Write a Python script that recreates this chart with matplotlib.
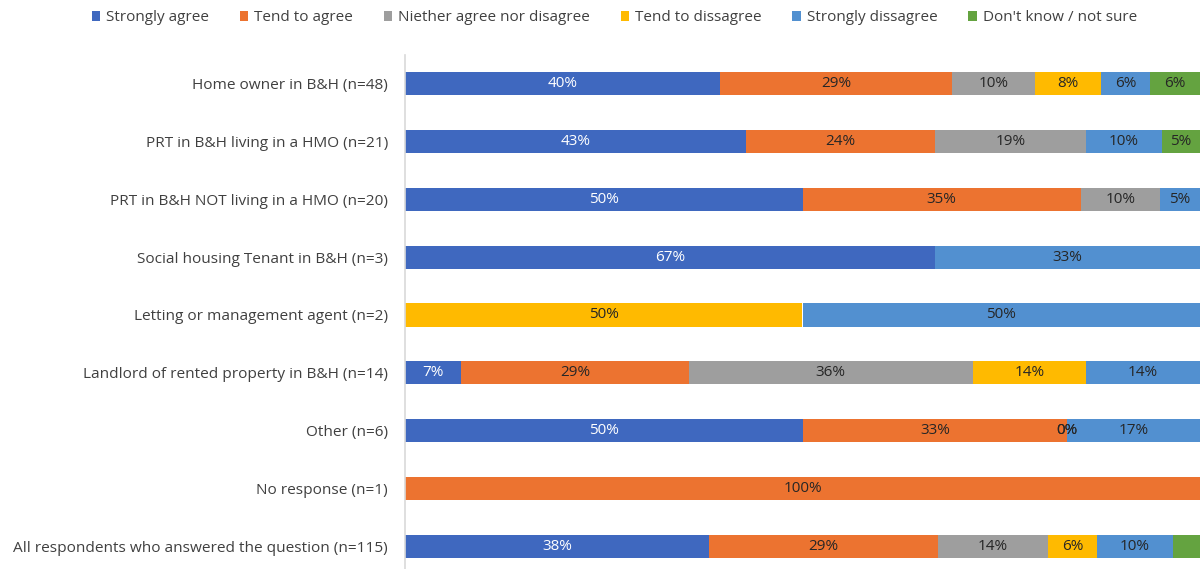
import matplotlib
matplotlib.use("Agg")
import matplotlib.pyplot as plt
from matplotlib.patches import Patch

plt.rcParams['font.family'] = ['Open Sans', 'DejaVu Sans']

categories = [
    "Home owner in B&H (n=48)",
    "PRT in B&H living in a HMO (n=21)",
    "PRT in B&H NOT living in a HMO (n=20)",
    "Social housing Tenant in B&H (n=3)",
    "Letting or management agent (n=2)",
    "Landlord of rented property in B&H (n=14)",
    "Other (n=6)",
    "No response (n=1)",
    "All respondents who answered the question (n=115)",
]
series = ["Strongly agree", "Tend to agree", "Niether agree nor disagree",
          "Tend to dissagree", "Strongly dissagree", "Don't know / not sure"]

strongly_agree   = [39.6, 42.9, 50.0, 66.7, 0.0, 7.1, 50.0, 0.0, 38.3]
tend_agree       = [29.2, 23.8, 35.0, 0.0, 0.0, 28.6, 33.3, 100.0, 28.7]
neither          = [10.4, 19.0, 10.0, 0.0, 0.0, 35.7, 0.0, 0.0, 13.9]
tend_disagree    = [8.3, 0.0, 0.0, 0.0, 50.0, 14.3, 0.0, 0.0, 6.1]
strongly_disagree= [6.25, 9.5, 5.0, 33.3, 50.0, 14.3, 16.7, 0.0, 9.6]
dont_know        = [6.25, 4.8, 0.0, 0.0, 0.0, 0.0, 0.0, 0.0, 3.5]

colors = ["#3F68BF", "#EC7330", "#9E9E9E", "#FFBA00", "#5290D0", "#64A340"]
text_colors = ["white", "#262626", "#262626", "#262626", "#262626", "#262626"]

data = [strongly_agree, tend_agree, neither, tend_disagree, strongly_disagree, dont_know]

# labels hidden / zero labels shown (as in the original)
hidden = {(8, 5)}
zero_shown = {(6, 2), (6, 3)}

fig = plt.figure(figsize=(12, 5.69), dpi=100)
ax = fig.add_axes([405/1200, -6/569, 795/1200, 520/569])

ypos = list(range(len(categories)))
left = [0.0] * len(categories)
for si, vals in enumerate(data):
    ax.barh(ypos, vals, left=left, height=0.4, color=colors[si], edgecolor='none', zorder=2)
    for i, v in enumerate(vals):
        if (i, si) in hidden:
            continue
        if v > 0 or (i, si) in zero_shown:
            ax.text(left[i] + v / 2, i, f"{round(v):d}%", ha='center', va='center',
                    fontsize=11, color=text_colors[si], zorder=3)
    left = [l + v for l, v in zip(left, vals)]

ax.set_xlim(0, 100)
ax.set_ylim(len(categories) - 0.5, -0.5)
ax.set_yticks(ypos)
ax.set_yticklabels(categories, fontsize=11.1, color="#404040")
ax.tick_params(axis='y', length=0, pad=12.2)
ax.set_xticks([])
for s in ['top', 'right', 'bottom']:
    ax.spines[s].set_visible(False)
ax.spines['left'].set_color('#D9D9D9')
ax.spines['left'].set_linewidth(1.2)

handles = [Patch(facecolor=c, edgecolor='none') for c in colors]
fig.legend(handles, series, loc='upper center', bbox_to_anchor=(0.512, 1.006), ncol=6,
           frameon=False, fontsize=11, handlelength=0.55, handleheight=0.55,
           handletextpad=0.4, columnspacing=2.0, labelcolor="#404040")

fig.savefig("out.png", dpi=100)
